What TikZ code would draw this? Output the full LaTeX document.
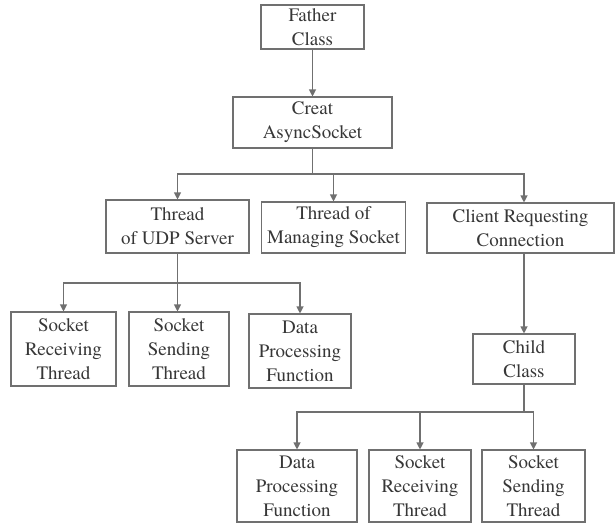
\documentclass[tikz,border=0pt]{standalone}
\usepackage{fontspec}
\newfontfamily\boxfont{TeX Gyre Termes}
\usetikzlibrary{arrows.meta,calc}
\definecolor{linegray}{RGB}{112,112,112}
\definecolor{textgray}{RGB}{55,55,55}
\tikzset{
  box/.style={draw=linegray, line width=1.1pt, inner sep=0pt, align=center,
    text=textgray, font=\boxfont\fontsize{19}{24}\selectfont},
  link/.style={draw=linegray, line width=1.1pt},
  arr/.style={link, -{Triangle[length=7pt,width=7pt]}}
}
\begin{document}
\begin{tikzpicture}[x=1pt,y=-1pt]
\useasboundingbox (0,0) rectangle (616,525);
% top of the hierarchy
\node[box, minimum width=103pt, minimum height=44pt] (father) at (312.5,27) {Father\\Class};
\node[box, minimum width=159pt, minimum height=51pt] (creat) at (312.5,122.5) {Creat\\AsyncSocket};
% second level
\node[box, minimum width=143pt, minimum height=53pt] (udp) at (177.5,226.5) {Thread\\of UDP Server};
\node[box, minimum width=144pt, minimum height=51pt] (manage) at (333.5,227.5) {Thread of\\Managing Socket};
\node[box, minimum width=187pt, minimum height=50pt] (client) at (520.5,228) {Client Requesting\\Connection};
% UDP server threads
\node[box, minimum width=105pt, minimum height=74pt] (recvA) at (63.5,349) {Socket\\Receiving\\Thread};
\node[box, minimum width=100pt, minimum height=74pt] (sendA) at (179,349) {Socket\\Sending\\Thread};
\node[box, minimum width=102pt, minimum height=74pt] (dataA) at (300,351) {Data\\Processing\\Function};
% child class branch
\node[box, minimum width=102pt, minimum height=50pt] (child) at (524,359) {Child\\Class};
\node[box, minimum width=120pt, minimum height=72pt] (dataB) at (297,486) {Data\\Processing\\Function};
\node[box, minimum width=102pt, minimum height=72pt] (recvB) at (420,486) {Socket\\Receiving\\Thread};
\node[box, minimum width=103pt, minimum height=72pt] (sendB) at (533.5,486) {Socket\\Sending\\Thread};

% junction points of the distribution buses
\coordinate (busA) at (312.5,174);
\coordinate (busB) at (177.5,283);
\coordinate (busC) at (524,412);
\coordinate (clientIn) at ($(client.north)+(3.5,0)$);

% connectors
\draw[arr] (father.south) -- (creat.north);
\draw[link] (creat.south) -- (busA);
\draw[arr] (busA) -| (udp.north);
\draw[arr] (busA) -| (manage.north);
\draw[arr] (busA) -| (clientIn);

\draw[link] (udp.south) -- (busB);
\draw[arr] (busB) -| (recvA.north);
\draw[arr] (busB) -- (busB |- sendA.north);
\draw[arr] (busB) -| (dataA.north);

\draw[arr] (child.north |- client.south) -- (child.north);
\draw[link] (child.south) -- (busC);
\draw[arr] (busC) -| (dataB.north);
\draw[arr] (busC) -| (recvB.north);
\draw[arr] (busC) -| (sendB.north);
\end{tikzpicture}
\end{document}
